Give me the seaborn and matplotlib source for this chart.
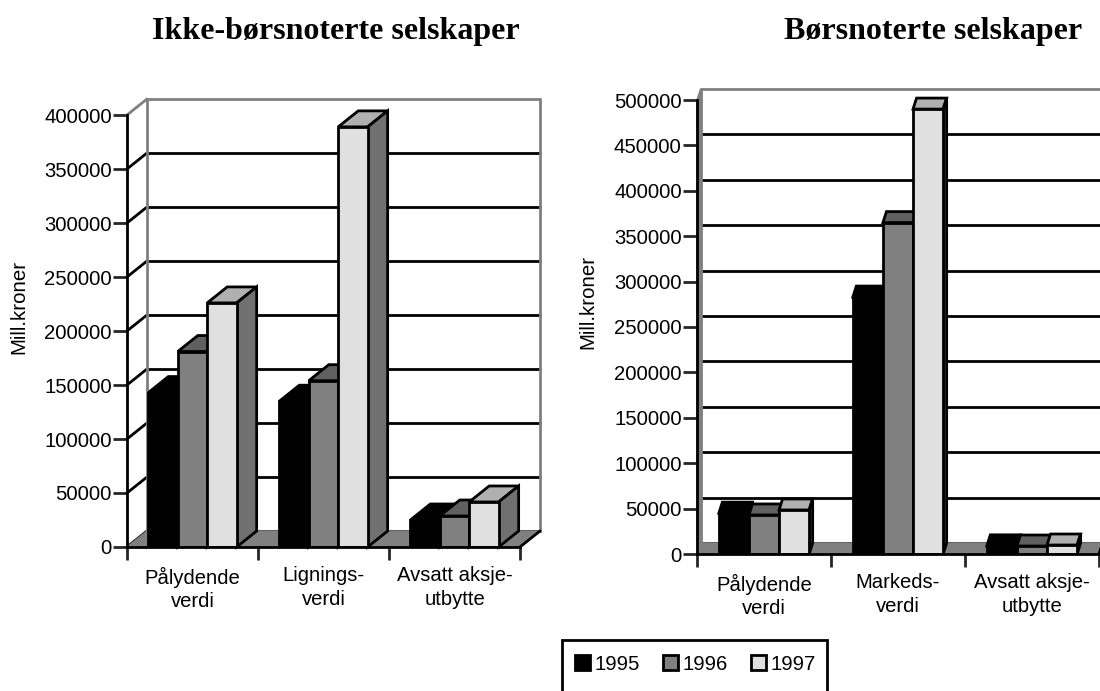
import pandas as pd
import seaborn as sns
import matplotlib.pyplot as plt
from matplotlib.patches import Polygon, Rectangle

years = ['1995', '1996', '1997']
labels_left = ['Pålydende\nverdi', 'Lignings-\nverdi', 'Avsatt aksje-\nutbytte']
labels_right = ['Pålydende\nverdi', 'Markeds-\nverdi', 'Avsatt aksje-\nutbytte']
values_left = {'1995': [143000, 135000, 25000],
               '1996': [181000, 154000, 28700],
               '1997': [226000, 389000, 41700]}
values_right = {'1995': [45000, 283000, 9000],
                '1996': [43000, 365000, 8800],
                '1997': [48500, 490000, 9900]}

front_cols = ['#000000', '#808080', '#e0e0e0']
top_cols = ['#000000', '#606060', '#b0b0b0']
side_cols = ['#000000', '#606060', '#707070']

W, H = 1100, 691


def tidy(values, labels):
    rows = []
    for y in years:
        for lab, v in zip(labels, values[y]):
            rows.append({'cat': lab, 'year': y, 'value': v})
    return pd.DataFrame(rows)


def chart(box, values, labels, ymax, step, dx, dy):
    # box = left, top, right, bottom in pixels
    l, t, r, b = box
    ax = fig.add_axes([l / W, 1 - b / H, (r - l) / W, (b - t) / H])
    ax.patch.set_alpha(0)
    sns.barplot(data=tidy(values, labels), x='cat', y='value', hue='year', hue_order=years,
                palette=front_cols, width=0.674, gap=0, edgecolor='black', linewidth=2,
                saturation=1, legend=False, ax=ax)
    ax.set_xlim(-0.5, 2.5)
    ax.set_ylim(0, ymax)
    ux = 3 / (r - l)        # data units per pixel
    uy = ymax / (b - t)
    ddx, ddy = dx * ux, dy * uy

    # back wall, grid and side wall
    xend = 2.5 + ddx
    for v in range(0, ymax + 1, step):
        c = '#808080' if v == ymax else 'black'
        ax.plot([-0.5 + ddx, xend], [v + ddy, v + ddy], color=c, lw=2, zorder=1, clip_on=False)
        if dx > 5:
            ax.plot([-0.5, -0.5 + ddx], [v, v + ddy], color=c, lw=2, zorder=1, clip_on=False)
    if dx <= 5:
        # narrow chart: side wall is just a grey strip
        ax.add_patch(Polygon([(-0.5, 0), (-0.5 + ddx, ddy), (-0.5 + ddx, ymax + ddy), (-0.5, ymax)],
                             closed=True, fc='#808080', ec='#808080', lw=1, zorder=1.5, clip_on=False))
    for xw in [-0.5 + ddx, xend]:
        ax.plot([xw, xw], [ddy, ymax + ddy], color='#808080', lw=2, zorder=1.5, clip_on=False)

    # floor
    ax.add_patch(Polygon([(-0.5, 0), (-0.5 + ddx, ddy), (xend, ddy), (2.5, 0)],
                         closed=True, fc='#808080', ec='#808080', lw=1, zorder=2, clip_on=False))
    ax.plot([2.5, xend], [0, ddy], color='black', lw=2, zorder=2.5, clip_on=False)

    # 3D faces for every bar
    for i, cont in enumerate(ax.containers):
        for j, bar in enumerate(cont):
            x0, x1 = bar.get_x(), bar.get_x() + bar.get_width()
            y = bar.get_height()
            z = 3 + j * 10 + i * 2
            ax.add_patch(Polygon([(x0, y), (x0 + ddx, y + ddy), (x1 + ddx, y + ddy), (x1, y)],
                                 closed=True, fc=top_cols[i], ec='black', lw=2, zorder=z, clip_on=False))
            ax.add_patch(Polygon([(x1, 0), (x1 + ddx, ddy), (x1 + ddx, y + ddy), (x1, y)],
                                 closed=True, fc=side_cols[i], ec='black', lw=2, zorder=z, clip_on=False))
            bar.set_zorder(z + 1)

    ax.set_yticks(range(0, ymax + 1, step))
    ax.set_xticks([-0.5, 0.5, 1.5, 2.5], ['', '', '', ''])
    ax.set_xticks([0, 1, 2], labels, minor=True)
    for lab in ax.get_xticklabels(minor=True):
        lab.set_linespacing(1.32)
    ax.tick_params(axis='x', which='major', bottom=True, length=9, width=2)
    ax.tick_params(axis='x', which='minor', bottom=False, pad=10, labelsize=14.6, labelcolor='black')
    ax.tick_params(axis='y', left=True, length=10, width=2, pad=1, labelsize=14.6, labelcolor='black')
    ax.set_xlabel('')
    ax.set_ylabel('Mill.kroner', fontsize=14.8, color='black', va='center')
    sns.despine(ax=ax)
    for s in ['left', 'bottom']:
        ax.spines[s].set_linewidth(2)
        ax.spines[s].set_color('black')
        ax.spines[s].set_zorder(100)
    return ax


sns.set_theme(style='white')
plt.rcParams['font.family'] = ['Liberation Sans', 'DejaVu Sans']

fig = plt.figure(figsize=(W / 100, H / 100), dpi=100)

ax1 = chart((127, 115, 520, 547), values_left, labels_left, 400000, 50000, 20, 16)
ax2 = chart((697, 100, 1099, 554), values_right, labels_right, 500000, 50000, 3.5, 11)

ax1.yaxis.set_label_coords((19 - 127) / 393, (547 - 307) / 432)
ax2.yaxis.set_label_coords((588 - 697) / 402, (554 - 302) / 454)

fig.text(335.5 / W, 1 - 32 / H, 'Ikke-børsnoterte selskaper', ha='center', va='center',
         family='Liberation Serif', weight='bold', fontsize=23, color='black')
fig.text(933.5 / W, 1 - 32 / H, 'Børsnoterte selskaper', ha='center', va='center',
         family='Liberation Serif', weight='bold', fontsize=23, color='black')

# legend, its box runs off the bottom of the picture
fig.add_artist(Rectangle((562 / W, 1 - 710 / H), 265 / W, 70 / H, transform=fig.transFigure,
                         fc='white', ec='black', lw=2))
handles = [Rectangle((0, 0), 1, 1, fc=c, ec='black', lw=2) for c in front_cols]
fig.legend(handles, years, ncol=3, loc='center', bbox_to_anchor=(695.5 / W, 1 - 664 / H),
           fontsize=14.6, frameon=False, handlelength=0.72, handleheight=0.72,
           handletextpad=0.25, columnspacing=1.13, borderpad=0, borderaxespad=0,
           labelcolor='black')

fig.savefig('out.png', dpi=100)
